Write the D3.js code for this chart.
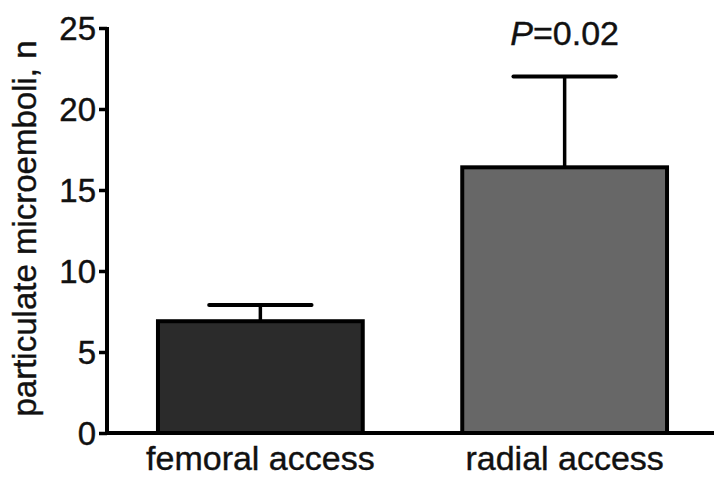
<!DOCTYPE html>
<html>
<head>
<meta charset="utf-8">
<script src="https://cdn.jsdelivr.net/npm/d3@7"></script>
<style>
  html, body { margin: 0; padding: 0; background: #fff; }
  svg { display: block; }
  text { font-family: "Liberation Sans", Arial, Helvetica, sans-serif; fill: #111; stroke: #111; stroke-width: 0.4px; }
</style>
</head>
<body>
<svg id="chart" width="714" height="478"></svg>
<script>
const categories = ["femoral access", "radial access"];
const means = [6.9, 16.4];
const errors = [1.0, 5.6];
const barColors = ["#2b2b2b", "#676767"];
const yTicks = [0, 5, 10, 15, 20, 25];
const yLabel = "particulate microemboli, n";
const pLabelItalic = "P";
const pLabelRest = "=0.02";

const svg = d3.select("#chart");
const W = 714, H = 478;
const axisX = 107, baseY = 433, topY = 28;

const y = d3.scaleLinear().domain([0, 25]).range([baseY, topY]);
const x = d3.scaleBand().domain(categories).range([axisX, 718])
  .paddingInner(0.327).paddingOuter(0.1675);

const data = categories.map((c, i) => ({ c, m: means[i], e: errors[i], col: barColors[i] }));

// error bars
const eb = svg.append("g");
data.forEach(d => {
  const cx = x(d.c) + x.bandwidth() / 2;
  const capW = x.bandwidth() / 2;
  eb.append("line").attr("x1", cx).attr("x2", cx)
    .attr("y1", y(d.m)).attr("y2", y(d.m + d.e))
    .attr("stroke", "#000").attr("stroke-width", 3.5);
  eb.append("line").attr("x1", cx - capW / 2).attr("x2", cx + capW / 2)
    .attr("y1", y(d.m + d.e)).attr("y2", y(d.m + d.e))
    .attr("stroke", "#000").attr("stroke-width", 4).attr("stroke-linecap", "round");
});

svg.append("g").selectAll("rect").data(data).join("rect")
  .attr("x", d => x(d.c))
  .attr("width", x.bandwidth())
  .attr("y", d => y(d.m))
  .attr("height", d => y(0) - y(d.m))
  .attr("fill", d => d.col)
  .attr("stroke", "#000")
  .attr("stroke-width", 4);

// y axis
const yAxis = d3.axisLeft(y).tickValues(yTicks).tickSize(8).tickPadding(3).tickFormat(d3.format("d"));
const gy = svg.append("g").attr("transform", `translate(${axisX},0)`).call(yAxis);
gy.select(".domain").attr("stroke", "#000").attr("stroke-width", 4)
  .attr("d", `M0,${baseY}V${topY - 1}`);
gy.selectAll(".tick line").attr("stroke", "#000").attr("stroke-width", 3.5);
gy.selectAll(".tick text")
  .attr("font-size", 33).attr("fill", "#111")
  .attr("font-family", '"Liberation Sans", Arial, sans-serif')
  .attr("dy", "0.35em");

// x axis baseline
const xAxis = d3.axisBottom(x).tickSize(0).tickPadding(13);
const gx = svg.append("g").attr("transform", `translate(0,${baseY})`).call(xAxis);
gx.select(".domain").attr("stroke", "#000").attr("stroke-width", 4)
  .attr("d", `M${axisX - 2},0H${W}`);
gx.selectAll(".tick text")
  .attr("font-size", 34).attr("fill", "#111")
  .attr("font-family", '"Liberation Sans", Arial, sans-serif')
  .attr("dy", "0.71em");

// y label
svg.append("text")
  .attr("transform", `translate(36,${(40 + 417) / 2}) rotate(-90)`)
  .attr("text-anchor", "middle")
  .attr("font-size", 33)
  .text(yLabel);

// P value annotation
const cxR = x(categories[1]) + x.bandwidth() / 2;
const pt = svg.append("text")
  .attr("x", cxR).attr("y", 45)
  .attr("text-anchor", "middle")
  .attr("font-size", 34);
pt.append("tspan").attr("font-style", "italic").text(pLabelItalic);
pt.append("tspan").text(pLabelRest);
</script>
</body>
</html>
